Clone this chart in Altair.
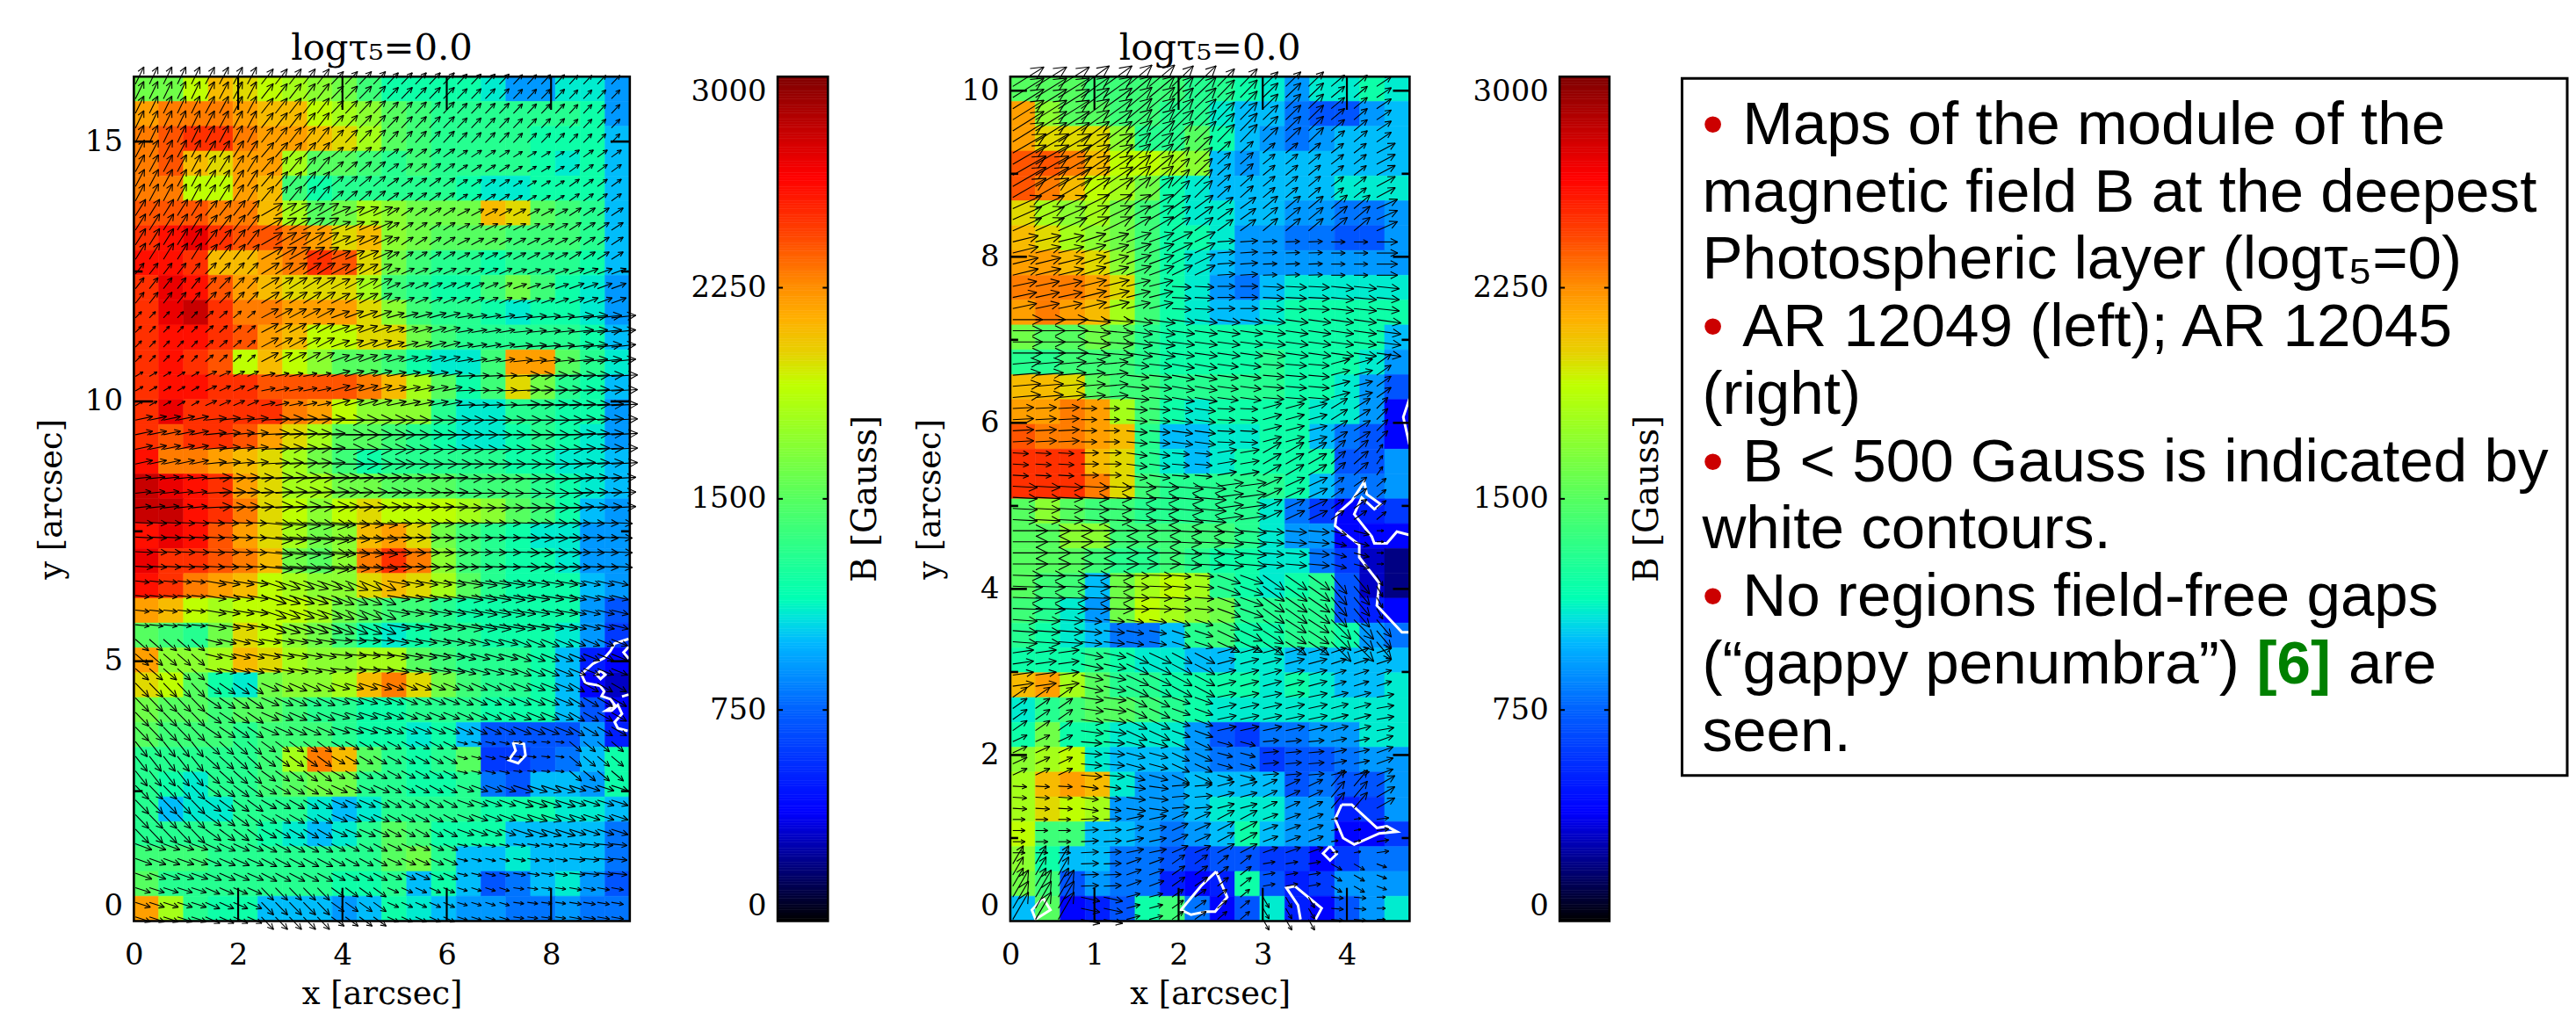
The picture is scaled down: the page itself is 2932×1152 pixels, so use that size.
import math
import numpy as np
import pandas as pd
import altair as alt

alt.data_transformers.disable_max_rows()

# ---- field strength, in hundreds of Gauss (top row first)
LEFT_B = [
[16,16,19,21,20,19,18,17,16,14,12,12,12,12,11,9,9,11,11,9],
[22,23,23,23,22,21,21,19,18,17,15,14,13,13,13,13,13,13,12,9],
[23,24,25,25,23,22,22,21,20,18,15,14,13,13,13,13,12,12,12,10],
[23,24,21,20,22,22,18,15,15,14,13,14,13,13,13,13,12,11,12,10],
[23,23,19,19,22,21,14,12,13,13,13,13,13,12,11,11,12,12,12,10],
[24,24,24,23,23,21,18,15,16,18,17,16,16,16,21,20,15,14,13,10],
[25,26,27,25,24,24,23,22,20,21,17,16,15,15,15,14,14,14,13,10],
[26,26,25,21,21,22,23,25,24,20,16,14,13,13,12,13,13,13,12,10],
[25,27,26,24,22,21,20,20,20,18,14,13,12,12,14,16,14,12,11,9],
[25,27,28,25,23,23,22,22,22,20,17,14,13,13,12,11,12,12,11,9],
[25,26,26,25,24,22,21,19,19,20,20,16,14,13,13,13,13,13,12,10],
[25,26,25,24,19,21,19,17,15,15,14,12,11,11,14,22,22,15,13,11],
[25,26,26,25,25,24,24,24,24,23,21,18,15,12,14,20,16,13,12,10],
[25,27,25,25,25,25,23,22,19,17,17,17,13,11,11,13,13,12,12,9],
[25,24,25,25,24,22,20,18,15,15,14,13,12,11,11,12,13,12,11,9],
[26,23,23,22,21,20,18,16,14,12,13,13,13,13,13,12,12,11,11,10],
[28,27,26,25,22,20,18,18,16,16,15,15,15,14,14,14,13,12,11,10],
[28,28,26,25,23,20,19,17,19,20,19,19,19,18,17,15,14,12,10,9],
[26,27,26,24,22,20,18,16,17,21,22,20,16,14,13,12,11,11,9,9],
[27,25,25,24,23,21,16,15,17,23,25,23,17,14,13,12,12,11,9,9],
[26,25,23,22,21,19,18,17,17,20,21,20,18,15,13,12,12,12,10,9],
[22,21,19,18,19,19,19,18,16,15,14,14,13,12,12,12,12,12,9,7],
[15,14,13,16,20,19,17,16,14,12,11,12,13,13,12,12,12,11,9,6],
[22,17,17,18,21,20,18,17,17,18,18,15,14,13,13,13,12,10,5,4],
[20,19,15,12,11,16,17,17,18,21,23,20,16,14,13,13,12,10,4,3],
[16,15,15,14,15,15,14,13,13,12,12,13,13,13,12,12,12,10,7,4],
[15,14,14,14,13,14,14,14,13,12,12,11,12,10,7,7,7,7,9,5],
[13,13,13,13,13,14,18,23,21,15,13,12,13,15,6,6,7,8,10,12],
[13,12,11,13,13,14,15,16,16,13,13,12,12,13,8,7,10,10,9,12],
[13,10,11,11,13,13,13,11,10,11,13,13,13,13,12,12,12,11,11,10],
[13,13,13,13,13,12,11,10,11,13,15,14,12,12,12,10,10,10,10,8],
[14,14,14,13,13,13,13,13,13,13,15,16,13,10,10,11,10,10,10,8],
[15,13,13,13,13,13,13,13,12,12,13,10,12,10,7,8,10,11,9,7],
[22,18,13,12,12,10,10,10,9,10,12,11,10,9,9,8,8,9,8,8],
]
RIGHT_B = [
[15,15,15,14,14,14,14,13,13,12,11,9,11,11,12,11],
[22,17,15,15,14,14,13,13,11,10,10,8,7,7,9,10],
[22,20,20,20,17,13,13,15,12,10,9,8,9,10,10,10],
[24,24,23,21,19,19,18,17,10,9,10,10,10,10,10,10],
[24,23,21,19,18,16,12,11,10,10,10,10,10,11,11,11],
[20,18,17,18,16,14,12,11,11,10,10,9,9,8,8,9],
[21,20,18,17,16,14,12,12,11,9,9,8,8,7,7,9],
[22,22,21,20,17,14,12,11,10,9,9,9,9,9,9,9],
[23,23,23,22,20,14,12,11,9,8,10,11,11,11,11,11],
[22,23,22,21,18,14,12,11,10,10,11,12,12,12,12,12],
[16,15,15,16,15,13,12,12,12,12,12,12,12,12,12,10],
[13,13,14,14,14,13,12,12,12,12,13,12,12,12,11,9],
[21,21,20,15,14,14,13,13,13,13,13,12,12,11,9,7],
[22,22,23,22,18,14,12,11,12,12,12,12,11,11,9,4],
[24,23,23,22,21,13,10,10,11,11,12,12,10,8,7,4],
[25,25,25,21,20,13,11,10,11,12,12,12,12,7,7,9],
[25,25,25,23,20,14,13,13,13,13,13,12,10,8,8,9],
[15,17,15,14,14,13,13,13,13,13,11,8,6,4,5,6],
[15,15,17,17,14,14,14,14,14,13,11,9,9,4,4,4],
[15,15,15,14,13,13,14,13,12,12,11,11,8,6,3,2],
[15,14,14,10,16,18,19,18,13,12,11,12,13,7,3,2],
[14,13,11,9,16,19,18,17,16,13,13,13,13,7,5,4],
[13,12,11,10,8,8,10,13,14,12,12,13,13,12,9,8],
[12,12,12,13,12,11,11,10,10,11,11,10,10,10,10,10],
[21,22,18,15,13,13,12,12,12,12,11,12,11,10,10,11],
[11,13,14,15,15,14,13,12,11,11,11,11,11,11,11,11],
[12,16,12,12,11,11,11,9,7,6,8,8,9,9,11,11],
[17,18,19,11,10,10,10,9,8,8,6,7,7,8,9,9],
[18,21,22,21,11,9,9,10,10,10,10,7,8,7,7,9],
[18,20,19,18,9,9,9,10,11,11,11,9,9,5,6,9],
[19,14,14,10,10,9,8,9,10,12,10,9,9,4,4,6],
[17,12,10,10,8,8,7,6,7,7,6,6,4,6,8,8],
[16,14,7,9,8,8,5,4,5,12,7,5,6,9,9,9],
[10,15,4,5,7,12,14,8,4,7,11,5,4,7,9,11],
]

# ---- arrow direction (degrees) and length (pixels) read in zones of the maps
LEFT_ZONE_Y = [15.5,14.3,13.2,12.2,11.2,10.2,9.2,8.2,7.2,6.2,5.2,4.2,3.2,2.2,1.2,0.3]
LEFT_ANGLE = [
[64,62,52,46,46,46,46,46],[62,58,50,40,36,34,32,36],[58,52,30,24,33,28,28,33],
[52,46,32,28,24,24,20,20],[46,41,28,20,16,10,6,6],[30,24,12,16,12,3,3,3],
[12,6,3,0,0,0,0,3],[6,3,3,3,3,0,0,3],[-3,-3,-6,-6,-3,-3,-3,-3],
[-6,-10,-18,-22,-10,-10,-10,-14],[-41,-14,-10,-6,-10,-16,-22,-22],
[-46,-34,-24,-18,-22,-24,-22,-30],[-52,-42,-36,-30,-28,-14,-6,-40],
[-46,-36,-30,-24,-28,-20,-18,-18],[-20,-24,-28,-28,-24,-14,-10,-6],
[-18,-24,-46,-36,-24,-18,-8,-10],
]
LEFT_LEN = [
[22,22,22,20,18,16,15,14],[22,22,22,18,16,14,12,14],[22,22,28,24,16,16,16,16],
[16,18,24,24,16,16,16,18],[10,12,22,22,20,18,22,28],[10,14,16,22,22,20,30,30],
[20,24,32,38,32,30,32,30],[18,30,36,32,28,28,32,28],[20,22,36,28,28,24,30,24],
[16,24,30,28,26,30,26,20],[20,20,22,24,25,22,22,20],[22,22,22,22,20,20,22,20],
[22,22,20,18,18,12,10,18],[22,22,20,20,18,20,24,20],[20,20,20,18,18,12,14,18],
[18,18,20,18,14,12,12,14],
]
RIGHT_ZONE_Y = [9.7,9.0,8.4,8.0,7.5,7.0,6.5,6.0,5.5,5.0,4.5,4.0,3.5,3.0,2.5,2.0,1.5,1.0,0.5,0.1]
RIGHT_ANGLE = [
[32,36,40,44,46,44,40,34],[30,34,40,44,42,40,38,28],[24,26,30,36,36,40,40,24],
[14,18,20,26,4,2,0,0],[12,14,14,-3,0,-3,-6,-6],[0,-5,-8,-8,-8,-8,-8,-8],
[5,5,-6,-10,-8,-5,15,35],[3,0,-5,-8,-3,15,32,45],[-3,0,-8,-5,10,30,42,55],
[-3,-3,-3,-5,8,25,35,40],[0,0,0,-3,-5,-5,-15,0],[-2,-2,-2,-5,-20,-35,-50,-60],
[-4,-6,-10,-18,-25,-33,-45,-50],[8,-12,-25,-28,15,15,18,18],[35,-8,-25,-20,12,12,15,10],
[25,-5,-15,-25,-15,5,12,20],[-3,-8,-8,5,15,25,50,30],[0,3,12,24,28,20,10,8],
[60,2,20,35,38,10,-30,-20],[60,-12,15,35,40,-60,-5,0],
]
RIGHT_LEN = [
[42,40,38,34,28,24,20,20],[44,40,36,28,20,18,18,24],[36,36,32,26,22,22,24,26],
[30,30,30,26,20,16,16,24],[28,30,28,22,20,24,26,26],[34,34,30,26,26,26,26,28],
[32,28,26,26,24,24,22,20],[24,18,24,24,20,22,22,18],[18,20,24,20,22,24,22,12],
[28,32,34,36,30,24,18,14],[40,40,36,34,30,24,18,8],[34,34,26,22,28,30,28,14],
[28,24,20,22,28,28,32,26],[24,26,28,26,22,22,18,18],[20,26,26,22,22,22,20,20],
[18,24,22,22,18,18,18,20],[16,20,22,20,20,18,24,24],[14,20,20,20,22,18,8,14],
[24,20,18,18,16,14,14,12],[36,22,16,16,14,14,14,10],
]

# ---- B < 500 Gauss contours, in arcsec
LEFT_CONTOURS = [
[(9.49,5.43),(9.22,5.34),(9.14,5.20),(9.02,5.06),(8.80,4.95),(8.58,4.75),(8.66,4.58),(8.94,4.53),(9.02,4.42),(8.97,4.33),(9.14,4.27),(9.22,4.16),(9.05,4.05),(9.16,4.05),(9.28,4.16),(9.36,3.99),(9.22,3.83),(9.28,3.71),(9.47,3.66)],
[(8.95,4.82),(9.04,4.74),(8.95,4.66),(8.87,4.74),(8.95,4.82)],
[(9.49,5.28),(9.39,5.17),(9.49,5.05)],
[(9.36,4.32),(9.49,4.36)],
[(7.27,3.44),(7.48,3.41),(7.51,3.19),(7.37,3.04),(7.19,3.10),(7.32,3.28),(7.27,3.44)],
]
RIGHT_CONTOURS = [
[(0.39,0.277),(0.477,0.135),(0.30,0.02),(0.257,0.135),(0.39,0.277)],
[(2.447,0.596),(2.578,0.288),(2.434,0.115),(2.327,0.115),(2.148,0.077),(2.029,0.135),(2.267,0.423),(2.447,0.596)],
[(3.449,0.02),(3.419,0.19),(3.282,0.40),(3.383,0.42),(3.70,0.154),(3.628,0.02)],
[(3.80,0.903),(3.878,0.807),(3.80,0.73),(3.717,0.814),(3.80,0.903)],
[(3.938,1.402),(4.057,1.402),(4.356,1.122),(4.475,1.141),(4.594,1.076),(4.385,1.056),(4.087,0.922),(3.956,0.999),(3.86,1.229),(3.938,1.402)],
[(4.743,3.477),(4.654,3.477),(4.356,3.80),(4.385,4.07),(4.147,4.38),(4.147,4.53),(3.86,4.76),(3.878,4.90),(4.057,5.06),(4.206,5.29),(4.236,5.14),(4.403,5.02),(4.326,4.96),(4.176,5.10),(4.087,4.90),(4.296,4.63),(4.326,4.55),(4.475,4.55),(4.594,4.69),(4.743,4.65)],
[(4.743,6.29),(4.67,6.07),(4.743,5.74)],
]

# ---- colour bar
COLOR_STOPS = [0, 389, 750, 990, 1070, 1148, 1500, 1907, 2023, 2140, 2250, 2450, 2645, 3000]
COLOR_HEX = ["#000000", "#0000ff", "#0062ff", "#00b8ff", "#00e0e0", "#00ffb4", "#55ff60",
             "#c0ff00", "#e8d000", "#ffb000", "#ff9000", "#ff4000", "#ff0000", "#800000"]
CBAR_TICKS = [0, 750, 1500, 2250, 3000]

TITLE = "logτ₅=0.0"
H = 965.6
ONE = pd.DataFrame({"a": [0]})
COLOR = alt.Scale(domain=COLOR_STOPS, range=COLOR_HEX, interpolate="rgb")
LABEL_FONT = "DejaVu Serif"
TITLE_FONT = "DejaVu Serif"


def heat_table(rows, xmax, ymax):
    nr, nc = len(rows), len(rows[0])
    out = []
    for r, row in enumerate(rows):
        for c, v in enumerate(row):
            out.append({"x0": c * xmax / nc, "x1": (c + 1) * xmax / nc,
                        "y0": ymax - (r + 1) * ymax / nr, "y1": ymax - r * ymax / nr, "B": v * 100})
    return pd.DataFrame(out)


def arrow_table(angles, lengths, zone_y, xmax, ymax, ppx, ppy, xstep, ystep, ystart, xstop):
    out = []
    nc = len(angles[0])
    zones = np.array(zone_y)
    for x0 in np.arange(0.03, xstop, xstep):
        c = min(int(x0 / xmax * nc), nc - 1)
        for y0 in np.arange(ystart, ymax, ystep):
            r = int(np.argmin(np.abs(zones - y0)))
            a, L = math.radians(angles[r][c]), lengths[r][c]
            xt, yt = x0 + L * math.cos(a) / ppx, y0 + L * math.sin(a) / ppy
            h = 0.38 * L
            d = {"x0": x0, "y0": y0, "xt": xt, "yt": yt}
            for key, s in (("a", 1), ("b", -1)):
                b = a + math.pi + s * math.radians(26)
                d["x" + key] = xt + h * math.cos(b) / ppx
                d["y" + key] = yt + h * math.sin(b) / ppy
            out.append(d)
    return pd.DataFrame(out).round(3)


def contour_table(contours):
    return pd.DataFrame([{"id": i, "k": k, "x": p[0], "y": p[1]}
                         for i, c in enumerate(contours) for k, p in enumerate(c)])


def panel(rows, contours, arrows, xmax, ymax, width, xvals, yvals, ymajor, yminor, lmaj, lmin, ytitlepad):
    sx = alt.Scale(domain=[0, xmax], nice=False, zero=False)
    sy = alt.Scale(domain=[0, ymax], nice=False, zero=False)
    ax_x = alt.Axis(
        values=xvals, format="d", title="x [arcsec]", domain=False, ticks=False, grid=False,
        labelFont=LABEL_FONT, labelFontSize=34, labelPadding=22, labelColor="black",
        titleFont=TITLE_FONT, titleFontSize=37, titleFontWeight="normal", titleColor="black",
        titlePadding=9, labelFlush=False, labelOverlap=False)
    ax_y = alt.Axis(
        values=yvals, format="d", title="y [arcsec]", domain=False, ticks=False, grid=False,
        labelFont=LABEL_FONT, labelFontSize=34, labelPadding=13, labelColor="black",
        titleFont=TITLE_FONT, titleFontSize=37, titleFontWeight="normal", titleColor="black",
        titlePadding=ytitlepad, labelFlush=True, labelFlushOffset=0, labelOverlap=False)
    heat = alt.Chart(heat_table(rows, xmax, ymax)).mark_rect(strokeWidth=0.6).encode(
        x=alt.X("x0:Q", scale=sx, axis=ax_x),
        x2="x1:Q",
        y=alt.Y("y0:Q", scale=sy, axis=ax_y),
        y2="y1:Q",
        color=alt.Color("B:Q", scale=COLOR, legend=None),
        stroke=alt.Stroke("B:Q", scale=COLOR, legend=None),
    )
    lines = alt.Chart(contour_table(contours)).mark_line(color="white", strokeWidth=3).encode(
        x=alt.X("x:Q", scale=sx, axis=ax_x), y=alt.Y("y:Q", scale=sy, axis=ax_y),
        detail="id:N", order="k:Q")
    seg = []
    for ax, ay, bx, by in (("x0", "y0", "xt", "yt"), ("xa", "ya", "xt", "yt"), ("xb", "yb", "xt", "yt")):
        seg.append(alt.Chart(arrows).mark_rule(color="black", strokeWidth=1.1).encode(
            x=alt.X(ax + ":Q", scale=sx, axis=ax_x), x2=bx + ":Q",
            y=alt.Y(ay + ":Q", scale=sy, axis=ax_y), y2=by + ":Q"))
    xt = pd.DataFrame({"v": xvals[1:]})
    ymaj = pd.DataFrame({"v": ymajor})
    ymin = pd.DataFrame({"v": yminor})
    ticks = []
    for a, b in ((0, 38), (H - 38, H)):
        ticks.append(alt.Chart(xt).mark_rule(color="black", strokeWidth=2.2).encode(
            x=alt.X("v:Q", scale=sx, axis=ax_x), y=alt.value(a), y2=alt.value(b)))
    for df, L in ((ymaj, lmaj), (ymin, lmin)):
        for a, b in ((0, L), (width - L, width)):
            ticks.append(alt.Chart(df).mark_rule(color="black", strokeWidth=2.6).encode(
                y=alt.Y("v:Q", scale=sy, axis=ax_y), x=alt.value(a), x2=alt.value(b)))
    frame = alt.Chart(ONE).mark_rect(fillOpacity=0, stroke="black", strokeWidth=2.6).encode(
        x=alt.value(0), x2=alt.value(width), y=alt.value(0), y2=alt.value(H))
    title = alt.Chart(ONE).mark_text(text=TITLE, font=TITLE_FONT, fontSize=42, color="black", align="center",
                                     baseline="alphabetic").encode(x=alt.value(width / 2), y=alt.value(-19))
    return alt.layer(heat, lines, *seg, *ticks, frame, title).properties(width=width, height=H)


def colorbar(width):
    sy = alt.Scale(domain=[0, 3000], nice=False, zero=False)
    levels = np.arange(0, 3000, 10)
    df = pd.DataFrame({"v0": levels, "v1": levels + 10, "B": levels + 5})
    ax_y = alt.Axis(
        orient="left", values=CBAR_TICKS, format="d", title=None, domain=False, ticks=False, grid=False,
        labelFont=LABEL_FONT, labelFontSize=34, labelPadding=13, labelColor="black",
        labelFlush=True, labelFlushOffset=0, labelOverlap=False)
    bar = alt.Chart(df).mark_rect(strokeWidth=0.6).encode(
        x=alt.value(0), x2=alt.value(width),
        y=alt.Y("v0:Q", scale=sy, axis=ax_y),
        y2="v1:Q",
        color=alt.Color("B:Q", scale=COLOR, legend=None),
        stroke=alt.Stroke("B:Q", scale=COLOR, legend=None))
    tk = pd.DataFrame({"v": CBAR_TICKS[1:-1]})
    tl = alt.Chart(tk).mark_rule(color="black", strokeWidth=2).encode(
        y=alt.Y("v:Q", scale=sy, axis=ax_y), x=alt.value(0), x2=alt.value(6))
    tr = alt.Chart(tk).mark_rule(color="black", strokeWidth=2).encode(
        y=alt.Y("v:Q", scale=sy, axis=ax_y), x=alt.value(width - 6), x2=alt.value(width))
    frame = alt.Chart(ONE).mark_rect(fillOpacity=0, stroke="black", strokeWidth=2.6).encode(
        x=alt.value(0), x2=alt.value(width), y=alt.value(0), y2=alt.value(H))
    label = alt.Chart(ONE).mark_text(font=TITLE_FONT, fontSize=39, angle=270, color="black", text="B [Gauss]",
                                     align="center", baseline="middle").encode(
        x=alt.value(width + 43), y=alt.value(H / 2))
    return alt.layer(bar, tl, tr, frame, label).properties(width=width, height=H)


def spacer(w):
    return alt.Chart(ONE).mark_point(opacity=0).encode(x=alt.value(0), y=alt.value(0)).properties(width=w, height=H)


# ---- text box
TEXT_PLAIN = ["magnetic field B at the deepest", "Photospheric layer (logτ₅=0)", "(right)", "white contours.",
              "(“gappy penumbra”)", "seen."]
TEXT_PLAIN_LINE = [1, 2, 4, 6, 8, 9]
TEXT_BULLET = ["Maps of the module of the", "AR 12049 (left); AR 12045", "B < 500 Gauss is indicated by", "No regions field-free gaps"]
TEXT_BULLET_LINE = [0, 3, 5, 7]
TEXT_REF = "[6]"
TEXT_ARE = "are"
LINE_LAST = 8


def text_box():
    W = 1012
    sy = alt.Scale(domain=[-77 / 77.1, (H - 77) / 77.1], nice=False, zero=False, reverse=True)
    def seg(lines, texts, x, color="black", weight="normal"):
        df = pd.DataFrame({"line": lines, "t": texts})
        return alt.Chart(df).mark_text(font="Liberation Sans", fontSize=69.5, align="left", baseline="alphabetic",
                                       color=color, fontWeight=weight).encode(
            x=alt.value(x), y=alt.Y("line:Q", scale=sy, axis=None), text="t:N")
    frame = alt.Chart(ONE).mark_rect(fillOpacity=0, stroke="black", strokeWidth=3).encode(
        x=alt.value(0), x2=alt.value(W), y=alt.value(2), y2=alt.value(799))
    return alt.layer(
        frame,
        seg(TEXT_PLAIN_LINE, TEXT_PLAIN, 23),
        seg(TEXT_BULLET_LINE, TEXT_BULLET, 69),
        seg(TEXT_BULLET_LINE, ["•"] * 4, 23, color="#cc0000"),
        seg([LINE_LAST], [TEXT_REF], 657, color="#008000", weight="bold"),
        seg([LINE_LAST], [TEXT_ARE], 762),
    ).properties(width=W, height=H)


left_arrows = arrow_table(LEFT_ANGLE, LEFT_LEN, LEFT_ZONE_Y, 9.51, 16.25, 59.6, 59.4, 16 / 59.6, 16.7 / 59.4, 0.08, 9.26)
right_arrows = arrow_table(RIGHT_ANGLE, RIGHT_LEN, RIGHT_ZONE_Y, 4.745, 10.17, 96.2, 94.95, 26 / 96.2, 12.7 / 94.95, 0.02, 4.6)

left = panel(LEFT_B, LEFT_CONTOURS, left_arrows, 9.51, 16.25, 567, [0, 2, 4, 6, 8], [0, 5, 10, 15],
             [5, 10, 15], [2.5, 7.5, 12.5], 22, 10, 19)
right = panel(RIGHT_B, RIGHT_CONTOURS, right_arrows, 4.745, 10.17, 456.5, [0, 1, 2, 3, 4], [0, 2, 4, 6, 8, 10],
              [2, 4, 6, 8, 10], [1, 3, 5, 7, 9], 19, 9, 17)

chart = alt.hconcat(
    left, spacer(169), colorbar(57.5), spacer(208), right, spacer(170.5), colorbar(57), spacer(82.6), text_box(),
    spacing=0, bounds="flush",
).properties(padding={"left": 31, "top": 24, "right": 0, "bottom": 0}).configure_view(stroke=None)

chart.save("out.html", embed_options={"renderer": "svg", "actions": False})
